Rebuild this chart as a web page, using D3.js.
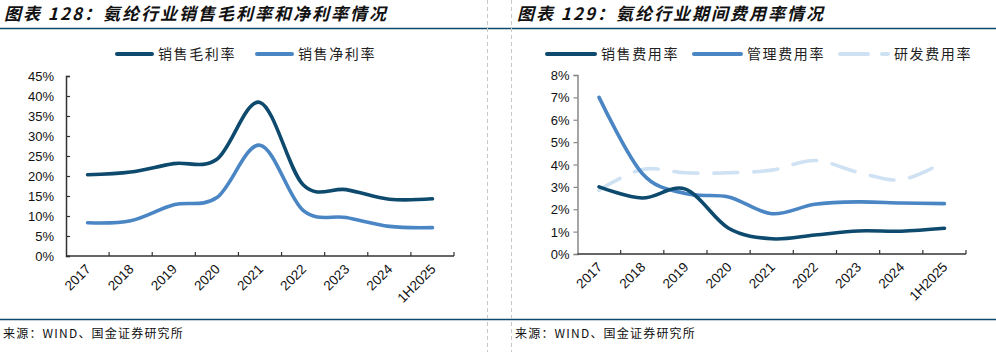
<!DOCTYPE html>
<html>
<head>
<meta charset="utf-8">
<script src="https://cdn.jsdelivr.net/npm/d3@7"></script>
<style>
  body { margin: 0; background: #fff; }
  svg { display: block; }
  .cjk { font-family: "Noto Sans CJK SC", sans-serif; }
  .num { font-family: "Liberation Sans", Arial, sans-serif; }
</style>
</head>
<body>
<div id="chart"></div>
<script>
const categories = ['2017', '2018', '2019', '2020', '2021', '2022', '2023', '2024', '1H2025'];

// chart 128 (%)
const grossMargin = [20.3, 21.0, 23.1, 24.2, 38.4, 17.8, 16.6, 14.2, 14.3];
const netMargin = [8.3, 8.8, 12.8, 14.6, 27.7, 11.4, 9.6, 7.4, 7.1];
const leftTicks = [0, 5, 10, 15, 20, 25, 30, 35, 40, 45];

// chart 129 (%)
const sellingRate = [3.0, 2.5, 2.9, 1.15, 0.68, 0.85, 1.03, 1.02, 1.15];
const adminRate = [7.0, 3.6, 2.7, 2.55, 1.8, 2.22, 2.33, 2.28, 2.25];
const rdRate = [2.85, 3.78, 3.63, 3.63, 3.75, 4.18, 3.65, 3.32, 4.12];
const rightTicks = [0, 1, 2, 3, 4, 5, 6, 7, 8];

const DARK = '#0d4a6e';
const MID = '#4a85c4';
const LIGHT = '#cfe2f3';

const width = 996, height = 352;
const svg = d3.select('#chart').append('svg').attr('width', width).attr('height', height);

// frame lines
svg.append('line').attr('x1', 0).attr('x2', width).attr('y1', 28.5).attr('y2', 28.5)
  .attr('stroke', '#0d4a6e').attr('stroke-width', 1.5);
svg.append('line').attr('x1', 0).attr('x2', width).attr('y1', 319.5).attr('y2', 319.5)
  .attr('stroke', '#0d4a6e').attr('stroke-width', 1.5);
[487.5, 511.5].forEach((xv) => {
  svg.append('line').attr('x1', xv).attr('x2', xv).attr('y1', 0).attr('y2', height)
    .attr('stroke', '#c8c8c8').attr('stroke-dasharray', '4,3');
});

function title(x, txt) {
  svg.append('text').attr('class', 'cjk').attr('x', x).attr('y', 20)
    .attr('font-size', 17).attr('font-weight', 700).attr('font-style', 'italic')
    .attr('letter-spacing', 2).attr('fill', '#111').text(txt);
}
title(4, '图表 128：氨纶行业销售毛利率和净利率情况');
title(517, '图表 129：氨纶行业期间费用率情况');

function source(x) {
  svg.append('text').attr('class', 'cjk').attr('x', x).attr('y', 338)
    .attr('font-size', 12).attr('letter-spacing', 1.2).attr('fill', '#111')
    .text('来源：WIND、国金证券研究所');
}
source(3);
source(515);

function legendItem(x0, x1, label, color, dash) {
  const g = svg.append('g');
  g.append('line').attr('x1', x0).attr('x2', x1).attr('y1', 54).attr('y2', 54)
    .attr('stroke', color).attr('stroke-width', 4).attr('stroke-linecap', 'round')
    .attr('stroke-dasharray', dash || null);
  g.append('text').attr('class', 'cjk').attr('x', x1 + 6).attr('y', 59)
    .attr('font-size', 14).attr('letter-spacing', 1.6).attr('fill', '#222').text(label);
}

function drawChart(opts) {
  const { xRange, yRange, domainMax, ticks, series, yTickOut, yAxisColor } = opts;
  const x = d3.scaleBand().domain(categories).range(xRange).padding(0);
  const y = d3.scaleLinear().domain([0, domainMax]).range(yRange);
  const g = svg.append('g');

  // y axis
  const yAxis = (yTickOut ? d3.axisLeft(y) : d3.axisRight(y))
    .tickValues(ticks).tickSize(4).tickFormat((d) => d + '%');
  const ya = g.append('g').attr('transform', `translate(${xRange[0]},0)`).call(yAxis);
  ya.select('.domain').attr('stroke', yAxisColor).attr('stroke-width', 1.5);
  ya.selectAll('.tick line').attr('stroke', yAxisColor).attr('stroke-width', 1.2);
  ya.selectAll('.tick text').attr('class', 'num').attr('font-size', 13).attr('fill', '#111')
    .attr('text-anchor', 'end').attr('x', yTickOut ? -8 : -12).attr('dy', '0.35em');

  // x axis with ticks at category boundaries
  const xa = g.append('g').attr('transform', `translate(0,${yRange[0]})`);
  xa.append('line').attr('x1', xRange[0]).attr('x2', xRange[1])
    .attr('stroke', '#333').attr('stroke-width', 1.5);
  const bounds = categories.map((c) => x(c)).concat([xRange[1]]).slice(1);
  bounds.forEach((b) => {
    xa.append('line').attr('x1', b).attr('x2', b).attr('y1', 0).attr('y2', -4)
      .attr('stroke', '#333').attr('stroke-width', 1.2);
  });
  categories.forEach((c) => {
    const cx = x(c) + x.bandwidth() / 2;
    xa.append('text').attr('class', 'num').attr('font-size', 13.5).attr('fill', '#111')
      .attr('text-anchor', 'end')
      .attr('transform', `translate(${cx + 4},${14}) rotate(-45)`)
      .text(c);
  });

  const line = d3.line()
    .x((d, i) => x(categories[i]) + x.bandwidth() / 2)
    .y((d) => y(d))
    .curve(d3.curveCardinal.tension(0));

  series.forEach((s) => {
    g.append('path').datum(s.values).attr('d', line)
      .attr('fill', 'none').attr('stroke', s.color).attr('stroke-width', 3.6)
      .attr('stroke-linecap', 'round')
      .attr('stroke-dasharray', s.dash || null);
  });
}

drawChart({
  xRange: [66, 454], yRange: [256, 76], domainMax: 45, ticks: leftTicks,
  yTickOut: false, yAxisColor: '#333',
  series: [
    { values: netMargin, color: MID },
    { values: grossMargin, color: DARK },
  ],
});

drawChart({
  xRange: [577.5, 966], yRange: [254, 75], domainMax: 8, ticks: rightTicks,
  yTickOut: true, yAxisColor: '#888',
  series: [
    { values: rdRate, color: LIGHT, dash: '24,16' },
    { values: adminRate, color: MID },
    { values: sellingRate, color: DARK },
  ],
});

legendItem(117, 152, '销售毛利率', DARK);
legendItem(257, 292, '销售净利率', MID);
legendItem(547, 595, '销售费用率', DARK);
legendItem(694, 741, '管理费用率', MID);
legendItem(840, 888, '研发费用率', LIGHT, '28,14');
</script>
</body>
</html>
